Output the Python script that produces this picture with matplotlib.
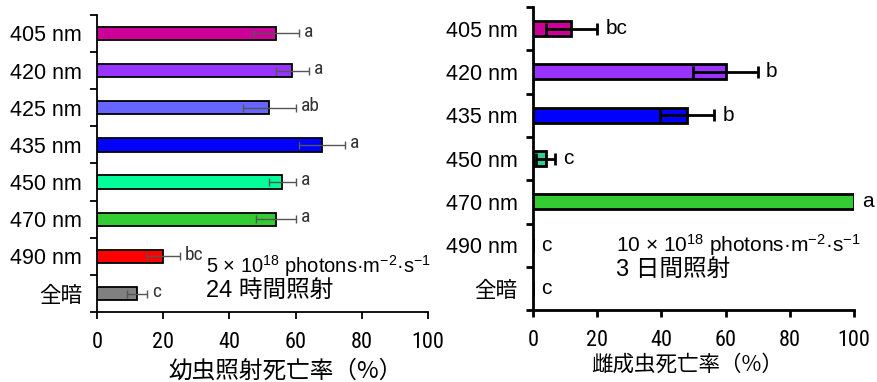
import numpy as np
import matplotlib
matplotlib.use("Agg")
import matplotlib.pyplot as plt
from matplotlib import font_manager

plt.rcParams["font.family"] = ["Liberation Sans", "Noto Sans CJK JP", "DejaVu Sans"]
plt.rcParams["mathtext.fontset"] = "custom"
plt.rcParams["mathtext.rm"] = "Liberation Sans"
plt.rcParams["mathtext.it"] = "Liberation Sans"
plt.rcParams["mathtext.default"] = "rm"

# left panel: larval mortality, 24 h
larva_labels = ["405 nm", "420 nm", "425 nm", "435 nm", "450 nm", "470 nm", "490 nm", "全暗"]
larva_vals = [54, 59, 52, 68, 56, 54, 20, 12]
larva_err = [7, 5, 8, 7, 4, 6, 5, 3]
larva_sig = ["a", "a", "ab", "a", "a", "a", "bc", "c"]
larva_colors = ["#CC0099", "#9933FF", "#6666FF", "#0000FF", "#00FF99", "#33CC33", "#FF0000", "#808080"]

# right panel: adult female mortality, 3 days
adult_labels = ["405 nm", "420 nm", "435 nm", "450 nm", "470 nm", "490 nm", "全暗"]
adult_vals = [12, 60, 48, 4, 100, 0, 0]
adult_err = [8, 10, 8.5, 3, 0, 0, 0]
adult_sig = ["bc", "b", "b", "c", "a", "c", "c"]
adult_colors = ["#CC0099", "#9933FF", "#0000FF", "#33CC99", "#33CC33", "#FFFFFF", "#FFFFFF"]

xticks = [0, 20, 40, 60, 80, 100]

# condensed font for the tick numbers if one is around
names = {f.name for f in font_manager.fontManager.ttflist}
narrow = "Liberation Sans"
for cand in ["Liberation Sans Narrow", "Roboto Condensed", "Open Sans Condensed", "Noto Sans Condensed"]:
    if cand in names:
        narrow = cand
        break
jp = ["Liberation Sans", "Noto Sans CJK JP"]

fig = plt.figure(figsize=(8.78, 3.82), dpi=100)
ax1 = fig.add_axes([0.1105, 0.183, 0.377, 0.778])
ax2 = fig.add_axes([0.607, 0.188, 0.3657, 0.794])


def style_axis(ax, n, labels, lw):
    ax.set_xlim(0, 100)
    ax.set_ylim(n - 0.5, -0.5)
    for s in ["top", "right"]:
        ax.spines[s].set_visible(False)
    for s in ["left", "bottom"]:
        ax.spines[s].set_linewidth(lw)
    ax.set_yticks(range(n))
    ax.set_yticklabels(labels, family=jp, fontsize=15.5)
    ax.set_yticks(np.arange(-0.5, n, 1.0), minor=True)
    ax.tick_params(axis="y", which="major", length=0, pad=11)
    ax.tick_params(axis="y", which="minor", length=5, width=lw, direction="out")
    ax.set_xticks(xticks)
    ax.set_xticklabels([str(t) for t in xticks], family=narrow, fontsize=16, stretch="condensed")
    ax.tick_params(axis="x", length=5, width=lw, direction="out", pad=9)


# left
y1 = np.arange(len(larva_labels))
ax1.barh(y1, larva_vals, height=0.36, color=larva_colors, edgecolor="black", linewidth=1.3)
ax1.errorbar(larva_vals, y1, xerr=larva_err, fmt="none", ecolor="#555555",
             elinewidth=1, capsize=3, capthick=1)
for i in range(len(larva_vals)):
    ax1.text(larva_vals[i] + larva_err[i] + 1.5, y1[i] - 0.05, larva_sig[i], family=narrow,
             fontsize=14, color="#333333", va="center", ha="left", stretch="condensed")
style_axis(ax1, len(larva_labels), larva_labels, 1.3)
ax1.text(33, 6.25, "5 × 10$^{18}$ photons·m$^{-2}$·s$^{-1}$", fontsize=14.5, va="center")
ax1.text(33, 6.92, "24 時間照射", family=jp, fontsize=17, va="center")
ax1.set_xlabel("幼虫照射死亡率（%）", family=["Noto Sans CJK JP"], fontsize=17)
ax1.xaxis.set_label_coords(0.57, -0.16)

# right
y2 = np.arange(len(adult_labels))
ax2.barh(y2, adult_vals, height=0.35, color=adult_colors, edgecolor="black", linewidth=2)
ax2.errorbar(adult_vals[:4], y2[:4], xerr=adult_err[:4], fmt="none", ecolor="black",
             elinewidth=2, capsize=4, capthick=2)
for i in range(len(adult_vals)):
    x = adult_vals[i] + adult_err[i] + 2.5
    if adult_vals[i] == 0:
        x = 2.5
    ax2.text(x, y2[i], adult_sig[i], fontsize=15, va="center", ha="left", clip_on=False)
style_axis(ax2, len(adult_labels), adult_labels, 2)
ax2.text(26, 5.0, "10 × 10$^{18}$ photons·m$^{-2}$·s$^{-1}$", fontsize=15, va="center")
ax2.text(26, 5.58, "3 日間照射", family=jp, fontsize=17, va="center")
ax2.set_xlabel("雌成虫死亡率（%）", family=["Noto Sans CJK JP"], fontsize=15.5)
ax2.xaxis.set_label_coords(0.48, -0.145)

fig.savefig("out.png", dpi=100)
